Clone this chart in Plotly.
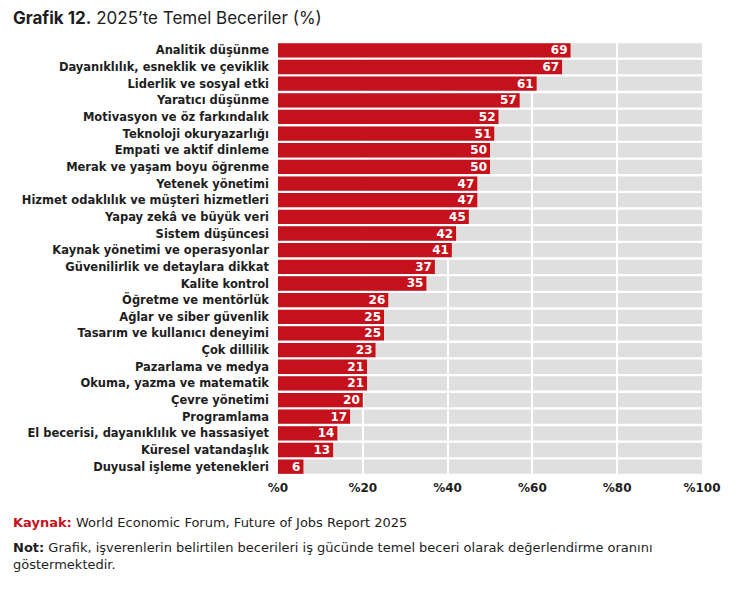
import plotly.graph_objects as go

# Veriler (yukaridan asagiya)
beceriler = [
    "Analitik düşünme", "Dayanıklılık, esneklik ve çeviklik", "Liderlik ve sosyal etki",
    "Yaratıcı düşünme", "Motivasyon ve öz farkındalık", "Teknoloji okuryazarlığı",
    "Empati ve aktif dinleme", "Merak ve yaşam boyu öğrenme", "Yetenek yönetimi",
    "Hizmet odaklılık ve müşteri hizmetleri", "Yapay zekâ ve büyük veri", "Sistem düşüncesi",
    "Kaynak yönetimi ve operasyonlar", "Güvenilirlik ve detaylara dikkat", "Kalite kontrol",
    "Öğretme ve mentörlük", "Ağlar ve siber güvenlik", "Tasarım ve kullanıcı deneyimi",
    "Çok dillilik", "Pazarlama ve medya", "Okuma, yazma ve matematik", "Çevre yönetimi",
    "Programlama", "El becerisi, dayanıklılık ve hassasiyet", "Küresel vatandaşlık",
    "Duyusal işleme yetenekleri",
]
oranlar = [69, 67, 61, 57, 52, 51, 50, 50, 47, 47, 45, 42, 41, 37, 35,
           26, 25, 25, 23, 21, 21, 20, 17, 14, 13, 6]
tam_deger = [100] * len(beceriler)
tick_degerleri = [0, 20, 40, 60, 80, 100]
tick_etiketleri = ["%0", "%20", "%40", "%60", "%80", "%100"]

FONT = "DejaVu Sans"
BASLIK_FONT = "Inter"
KIRMIZI = "#C5111C"
GRI = "#DFDFDF"
KOYU = "#1E1E1E"

# sayfa govdesinin 8px kenar boslugu hesaba katiliyor
W, H = 736, 584
L, R, T, B = 270, 42, 34, 117
PW, PH = W - L - R, H - T - B

fig = go.Figure()

# arka plan gri bantlar (alt subplot)
fig.add_trace(go.Bar(
    y=beceriler, x=tam_deger, orientation="h",
    marker=dict(color=GRI, line=dict(width=0)),
    hoverinfo="skip", xaxis="x", yaxis="y",
))

# kirmizi degerler (ust subplot, beyaz izgara cizgilerinin ustunde)
fig.add_trace(go.Bar(
    y=beceriler, x=oranlar, orientation="h",
    marker=dict(color=KIRMIZI, line=dict(width=0)),
    text=[str(v) for v in oranlar], textposition="inside",
    insidetextanchor="end", textangle=0, constraintext="none",
    textfont=dict(family=FONT, size=12, color="white", weight="bold"),
    xaxis="x2", yaxis="y2",
))

eksen_y = dict(
    categoryorder="array", categoryarray=beceriler, autorange="reversed",
    showgrid=False, zeroline=False, showline=False, ticks="",
)

fig.update_layout(
    width=W, height=H,
    margin=dict(l=L, r=R, t=T, b=B),
    paper_bgcolor="white", plot_bgcolor="rgba(0,0,0,0)",
    showlegend=False, bargap=0.14,
    font=dict(family=FONT, color=KOYU),
    xaxis=dict(range=[0, 100], domain=[0, 1], anchor="y",
               showgrid=False, zeroline=False, showline=False,
               tickvals=tick_degerleri, ticktext=tick_etiketleri,
               tickfont=dict(family=FONT, size=12, color=KOYU, weight="bold"),
               ticks="", ticklabelstandoff=4),
    yaxis=dict(eksen_y, domain=[0, 1], anchor="x",
               tickfont=dict(family=FONT, size=11.5, color=KOYU, weight="bold"),
               ticklabelstandoff=8),
    xaxis2=dict(range=[0, 100], domain=[0, 1], anchor="y2",
                showgrid=True, gridcolor="white", gridwidth=1.5,
                tickvals=tick_degerleri, showticklabels=False,
                zeroline=False, showline=False, ticks=""),
    yaxis2=dict(eksen_y, domain=[0, 1], anchor="x2", showticklabels=False),
    annotations=[
        dict(text="<b>Grafik 12.</b> 2025’te Temel Beceriler (%)",
             xref="paper", yref="paper", x=(3 - L) / PW, y=1 + (T - 10) / PH,
             xanchor="left", yanchor="middle", showarrow=False,
             font=dict(family=BASLIK_FONT, size=17, color=KOYU)),
        dict(text=f"<b><span style='color:{KIRMIZI}'>Kaynak:</span></b> World Economic Forum, Future of Jobs Report 2025",
             xref="paper", yref="paper", x=(3 - L) / PW, y=-(514 - T - PH) / PH,
             xanchor="left", yanchor="middle", showarrow=False,
             font=dict(family=FONT, size=13, color=KOYU)),
        dict(text="<b>Not:</b> Grafik, işverenlerin belirtilen becerileri iş gücünde temel beceri olarak değerlendirme oranını<br>göstermektedir.",
             xref="paper", yref="paper", x=(3 - L) / PW, y=-(530 - T - PH) / PH,
             xanchor="left", yanchor="top", align="left", showarrow=False,
             font=dict(family=FONT, size=13, color=KOYU)),
    ],
)

fig.write_html("out.html")
